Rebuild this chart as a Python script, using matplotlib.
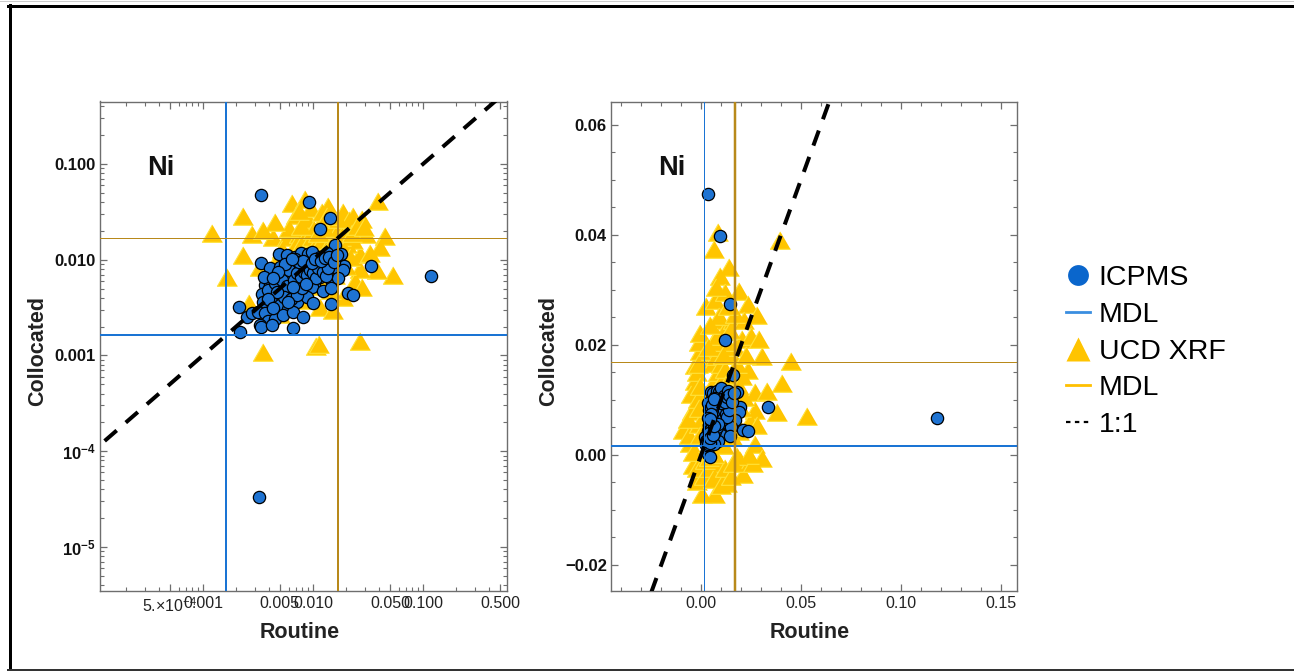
import numpy as np
import matplotlib
matplotlib.use("Agg")
import matplotlib.pyplot as plt
from matplotlib.lines import Line2D
from matplotlib.ticker import FixedLocator, FixedFormatter, NullFormatter, MultipleLocator

plt.rcParams['font.family'] = ['Liberation Sans', 'DejaVu Sans']
plt.rcParams['mathtext.fontset'] = 'custom'
plt.rcParams['mathtext.rm'] = 'Liberation Sans'
plt.rcParams['mathtext.bf'] = 'Liberation Sans:bold'
plt.rcParams['mathtext.it'] = 'Liberation Sans:italic'

# ---------------- data ----------------
element = "Ni"
icpms_mdl = 0.00163
xrf_mdl = 0.0168

icpms_routine = [
    0.00340, 0.00925, 0.0143, 0.0117, 0.0337, 0.118, 0.0032, 0.021, 0.0232, 0.0158, 0.0046,
    0.00494, 0.00584, 0.00686, 0.00773, 0.00907, 0.00972, 0.0116, 0.0133, 0.018,
    0.00337, 0.00406, 0.00501, 0.00618, 0.00686, 0.00876, 0.0108, 0.01285, 0.0153, 0.017, 0.0193, 0.0189,
    0.00556, 0.0064, 0.00467, 0.00366, 0.00406, 0.00789, 0.01007, 0.0103, 0.01475, 0.0116, 0.017,
    0.00341, 0.00393, 0.00501, 0.00576, 0.00686, 0.00846, 0.00972, 0.0124, 0.0147,
    0.00353, 0.00421, 0.00501, 0.00597, 0.00711, 0.00876, 0.00993, 0.01458, 0.00211,
    0.00249, 0.00277, 0.00318, 0.00366, 0.00393, 0.00451, 0.00537, 0.00662, 0.00817, 0.0033,
    0.00217, 0.00337, 0.00662, 0.00421,
    0.0045, 0.0052, 0.0058, 0.0061, 0.0067, 0.0072, 0.0078, 0.0083, 0.0088, 0.0094,
    0.0101, 0.0107, 0.0112, 0.0123, 0.0131, 0.0137, 0.0054, 0.0063, 0.0071, 0.0079,
    0.0086, 0.0047, 0.0039, 0.0043, 0.0059, 0.0066, 0.0074, 0.0082, 0.0097, 0.0105,
    0.0119, 0.0128, 0.0141, 0.0155, 0.0165, 0.0056, 0.0064, 0.0048, 0.0036, 0.0043,
]
icpms_collocated = [
    0.0474, 0.0397, 0.0274, 0.0209, 0.00858, 0.00674, 3.3e-5, 0.0045, 0.00424, 0.0144, -0.0004,
    0.01144, 0.01117, 0.01056, 0.01163, 0.01144, 0.0121, 0.01073, 0.01163, 0.01144,
    0.0093, 0.0081, 0.00844, 0.00844, 0.0103, 0.00844, 0.00878, 0.00914, 0.00844, 0.00797, 0.00864, 0.00779,
    0.00674, 0.0069, 0.00637, 0.00544, 0.00544, 0.00588, 0.00565, 0.00547, 0.00578, 0.00663, 0.00637,
    0.00437, 0.00481, 0.00481, 0.00451, 0.0047, 0.00444, 0.00521, 0.00466, 0.00501,
    0.00363, 0.00349, 0.00335, 0.00302, 0.00363, 0.0041, 0.00349, 0.00346, 0.00317,
    0.00253, 0.00275, 0.00286, 0.00275, 0.00228, 0.00243, 0.00264, 0.00286, 0.00253, 0.00207,
    0.00174, 0.00196, 0.00195, 0.00207,
    0.0057, 0.0062, 0.0053, 0.0078, 0.0061, 0.0072, 0.0066, 0.0075, 0.0069, 0.0078,
    0.0072, 0.0064, 0.0081, 0.0074, 0.0068, 0.0082, 0.0041, 0.0039, 0.0043, 0.0051,
    0.0056, 0.0046, 0.0039, 0.0031, 0.0036, 0.0052, 0.0095, 0.0098, 0.0093, 0.0101,
    0.0096, 0.0105, 0.0108, 0.0095, 0.0112, 0.0091, 0.0101, 0.0074, 0.0066, 0.0065,
]

xrf_routine = [
    0.0012, 0.0023, 0.0028, 0.0023, 0.00164, 0.0035, 0.0106, 0.0114, 0.0267,
    0.0064, 0.0085, 0.0138, 0.0187, 0.0232, 0.0277, 0.0393, 0.0450, 0.0406, 0.0530,
    0.0378, 0.0267, 0.0267, 0.0306, 0.0043, 0.0058, 0.0074, 0.0088, 0.0115, 0.0203,
    0.0158, 0.0232, 0.0203, 0.0242, 0.0277, 0.0187, 0.0115, 0.0153, 0.0050, 0.0033,
    0.0026, 0.0329, 0.0070, 0.0090, 0.0145, 0.0212,
    0.0045, 0.0052, 0.0060, 0.0068, 0.0075, 0.0082, 0.0090, 0.0098, 0.0105, 0.0112,
    0.0120, 0.0130, 0.0140, 0.0150, 0.0160, 0.0170, 0.0180, 0.0190, 0.0055, 0.0065,
    0.0080, 0.0095, 0.0110, 0.0125, 0.0140, 0.0160, 0.0175, 0.0040, 0.0048, 0.0085,
    0.0100, 0.0125, 0.0060, 0.0078, 0.0145, 0.0200, 0.0215, 0.0225,
    0.0095, 0.0120, 0.0170, 0.0250, 0.0290, 0.0110, 0.0135, 0.0075,
    0.0304, 0.0195, 0.0210, 0.0110, 0.0087, 0.0128, 0.0070, 0.0003, -0.0022, -0.0039,
    -0.0055, -0.0089, -0.0047, -0.0030, -0.0030, -0.0005, -0.0022,
    -0.0060, -0.0040, -0.0020, 0.0015, 0.0040, 0.0060, 0.0100, 0.0120, 0.0150, 0.0020,
    -0.0010, -0.0050, -0.0065, -0.0015, -0.0005, -0.0010, -0.0008, -0.0010, -0.0008,
    0.0045, 0.0035, -0.0015, 0.0260, 0.0240, 0.0180, 0.0160, 0.0040, 0.0065,
]
xrf_collocated = [
    0.0178, 0.0265, 0.0174, 0.0105, 0.0062, 0.00102, 0.00118, 0.00122, 0.00131,
    0.0368, 0.0400, 0.0335, 0.0292, 0.0268, 0.0249, 0.0385, 0.0165, 0.0125, 0.0065,
    0.0072, 0.0075, 0.0108, 0.0174, 0.0161, 0.0161, 0.0174, 0.0239, 0.0220, 0.0204,
    0.0239, 0.0148, 0.0137, 0.0056, 0.0048, 0.0038, 0.0030, 0.0028, 0.0025, 0.0078,
    0.0033, 0.0110, 0.0276, 0.0247, 0.0222, 0.0240,
    0.0085, 0.0120, 0.0095, 0.0130, 0.0105, 0.0145, 0.0115, 0.0160, 0.0130, 0.0095,
    0.0150, 0.0120, 0.0175, 0.0140, 0.0105, 0.0190, 0.0160, 0.0120, 0.0060, 0.0045,
    0.0065, 0.0050, 0.0070, 0.0055, 0.0085, 0.0065, 0.0090, 0.0048, 0.0035, 0.0035,
    0.0190, 0.0200, 0.0200, 0.0210, 0.0045, 0.0080, 0.0100, 0.0175,
    0.0320, 0.0290, 0.0250, 0.0210, 0.0205, 0.0175, 0.0265, 0.0300,
    -0.0012, -0.0015, -0.0040, -0.0040, -0.0021, -0.0057, -0.0077, -0.0077, -0.0054, -0.0024,
    0.0015, 0.0040, 0.0073, 0.0128, 0.0157, 0.0183, 0.0144,
    0.0030, 0.0000, -0.0030, -0.0045, -0.0030, -0.0050, -0.0060, -0.0030, -0.0045, -0.0015,
    0.0050, 0.0105, 0.0060, 0.0095, 0.0120, 0.0080, 0.0030, 0.0200, 0.0215,
    0.0230, 0.0190, 0.0160, -0.0020, -0.0006, -0.0008, -0.0020, -0.0010, -0.0005,
]

x_ticks_log = [5e-4, 0.001, 0.005, 0.010, 0.050, 0.100, 0.500]
x_ticklabels_log = [r'5.$\times$10$^{-4}$', '0.001', '0.005', '0.010', '0.050', '0.100', '0.500']
y_ticks_log = [1e-5, 1e-4, 1e-3, 1e-2, 1e-1]
y_ticklabels_log = [r'$\mathbf{10^{-5}}$', r'$\mathbf{10^{-4}}$', '0.001', '0.010', '0.100']
x_ticks_lin = [0.0, 0.05, 0.10, 0.15]
x_ticklabels_lin = ['0.00', '0.05', '0.10', '0.15']
y_ticks_lin = [-0.02, 0.0, 0.02, 0.04, 0.06]
y_ticklabels_lin = ['\u22120.02', '0.00', '0.02', '0.04', '0.06']

# ---------------- styles ----------------
W, H = 1294, 671
C_BLUE = '#1E73D2'
C_BLUE_LINE = '#1A74D4'
C_GOLD = '#FFC500'
C_GOLD_EDGE = '#FFE23A'
C_GOLD_LINE = '#B8891A'
PX = 0.72  # points per pixel
tri = [(0, 1), (-0.866, -0.5), (0.866, -0.5)]
S_TRI = 280
S_CIR = 78

fig = plt.figure(figsize=(W / 100, H / 100), dpi=100)

def px_axes(x0, y0, x1, y1):
    return fig.add_axes([x0 / W, 1 - y1 / H, (x1 - x0) / W, (y1 - y0) / H])

ax1 = px_axes(100, 101.5, 507, 590.5)
ax2 = px_axes(611, 101.5, 1017, 590.5)

xi = np.array(icpms_routine); yi = np.array(icpms_collocated)
xx = np.array(xrf_routine); yx = np.array(xrf_collocated)

def style_axes(ax):
    for s in ax.spines.values():
        s.set_color('#6e6e6e')
        s.set_linewidth(1.0)
    ax.tick_params(which='both', direction='in', top=True, right=True, colors='#6e6e6e')
    ax.tick_params(which='major', length=5, width=0.9)
    ax.tick_params(which='minor', length=2.6, width=0.8)
    ax.tick_params(axis='x', labelcolor='#222222', labelsize=11.5, pad=4)
    ax.tick_params(axis='y', labelcolor='#111111', labelsize=12, pad=3)
    for lab in ax.get_yticklabels():
        lab.set_fontweight('bold')
    ax.set_xlabel('Routine', fontsize=15.5, fontweight='bold', color='#222222')
    ax.set_ylabel('Collocated', fontsize=15.5, fontweight='bold', color='#222222')
    ax.xaxis.set_label_coords(0.49, -0.064)
    ax.yaxis.set_label_coords(-0.128, 0.49)
    ax.text(0.15, 0.865, element, transform=ax.transAxes, fontsize=19.5,
            fontweight='bold', ha='center', va='center', color='#111111')

# ---------- left: log-log ----------
m = (xx > 0) & (yx > 0)
ax1.scatter(xx[m], yx[m], s=S_TRI, marker=tri, facecolor=C_GOLD, edgecolor=C_GOLD_EDGE,
            linewidths=0.8, zorder=2)
m = (xi > 0) & (yi > 0)
ax1.scatter(xi[m], yi[m], s=S_CIR, marker='o', facecolor=C_BLUE, edgecolor='black',
            linewidths=0.9, zorder=3)
ax1.set_xscale('log'); ax1.set_yscale('log')
ax1.set_xlim(1.16e-4, 0.58)
ax1.set_ylim(3.5e-6, 0.45)
ax1.axvline(icpms_mdl, color=C_BLUE_LINE, lw=2 * PX, zorder=4)
ax1.axhline(icpms_mdl, color=C_BLUE_LINE, lw=2 * PX, zorder=4)
ax1.axvline(xrf_mdl, color=C_GOLD_LINE, lw=2 * PX, zorder=4)
ax1.axhline(xrf_mdl, color=C_GOLD_LINE, lw=1 * PX, zorder=4)
ax1.plot([1e-7, 10], [1e-7, 10], color='black', lw=4 * PX, ls=(0, (4, 3)),
         dash_capstyle='butt', zorder=5)
ax1.xaxis.set_major_locator(FixedLocator(x_ticks_log))
ax1.xaxis.set_major_formatter(FixedFormatter(x_ticklabels_log))
ax1.yaxis.set_major_locator(FixedLocator(y_ticks_log))
ax1.yaxis.set_major_formatter(FixedFormatter(y_ticklabels_log))
xminor = [k * 10.0 ** e for e in range(-5, 1) for k in (2, 3, 4, 6, 7, 8, 9)]
yminor = [k * 10.0 ** e for e in range(-7, 1) for k in (2, 3, 4, 5, 6, 7, 8, 9)]
ax1.xaxis.set_minor_locator(FixedLocator(xminor))
ax1.yaxis.set_minor_locator(FixedLocator(yminor))
ax1.xaxis.set_minor_formatter(NullFormatter())
ax1.yaxis.set_minor_formatter(NullFormatter())
style_axes(ax1)

# ---------- right: linear ----------
ax2.scatter(xx, yx, s=S_TRI, marker=tri, facecolor=C_GOLD, edgecolor=C_GOLD_EDGE,
            linewidths=0.8, zorder=2)
ax2.scatter(xi, yi, s=S_CIR, marker='o', facecolor=C_BLUE, edgecolor='black',
            linewidths=0.9, zorder=3)
ax2.set_xlim(-0.0452, 0.1582)
ax2.set_ylim(-0.0247, 0.0642)
ax2.axvline(icpms_mdl, color=C_BLUE_LINE, lw=1 * PX, zorder=4)
ax2.axhline(icpms_mdl, color=C_BLUE_LINE, lw=2 * PX, zorder=4)
ax2.axvline(xrf_mdl, color=C_GOLD_LINE, lw=2.5 * PX, zorder=4)
ax2.axhline(xrf_mdl, color=C_GOLD_LINE, lw=1 * PX, zorder=4)
ax2.plot([-1, 1], [-1, 1], color='black', lw=4 * PX, ls=(0, (4, 3)),
         dash_capstyle='butt', zorder=5)
ax2.xaxis.set_major_locator(FixedLocator(x_ticks_lin))
ax2.xaxis.set_major_formatter(FixedFormatter(x_ticklabels_lin))
ax2.yaxis.set_major_locator(FixedLocator(y_ticks_lin))
ax2.yaxis.set_major_formatter(FixedFormatter(y_ticklabels_lin))
ax2.xaxis.set_minor_locator(MultipleLocator(0.01))
ax2.yaxis.set_minor_locator(MultipleLocator(0.005))
style_axes(ax2)

# ---------- legend ----------
handles = [
    Line2D([], [], ls='none', marker='o', markersize=15, markerfacecolor='#0A66CC',
           markeredgecolor='none'),
    Line2D([], [], color='#3A8EE0', lw=2),
    Line2D([], [], ls='none', marker='^', markersize=17, markerfacecolor='#FFC400',
           markeredgecolor='none'),
    Line2D([], [], color='#FFC000', lw=2),
    Line2D([], [], color='black', lw=1.6, ls=(0, (2, 2))),
]
labels = ['ICPMS', 'MDL', 'UCD XRF', 'MDL', '1:1']
fig.legend(handles, labels, loc='upper left', bbox_to_anchor=(1066 / W, 1 - 265 / H),
           frameon=False, fontsize=20.5, handlelength=0.85, handletextpad=0.3,
           labelspacing=0.38, borderpad=0, borderaxespad=0)

# ---------- figure frame ----------
fig.add_artist(Line2D([0, 1], [1 - 0.5 / H] * 2, transform=fig.transFigure, color='#cccccc', lw=1 * PX))
fig.add_artist(Line2D([8 / W, 1], [1 - 6.2 / H] * 2, transform=fig.transFigure, color='black', lw=3 * PX))
fig.add_artist(Line2D([9.5 / W] * 2, [0, 1 - 5 / H], transform=fig.transFigure, color='black', lw=3 * PX))
fig.add_artist(Line2D([8 / W, 1], [1 - 669.8 / H] * 2, transform=fig.transFigure, color='#333333', lw=2 * PX))

fig.savefig('out.png', dpi=100)
